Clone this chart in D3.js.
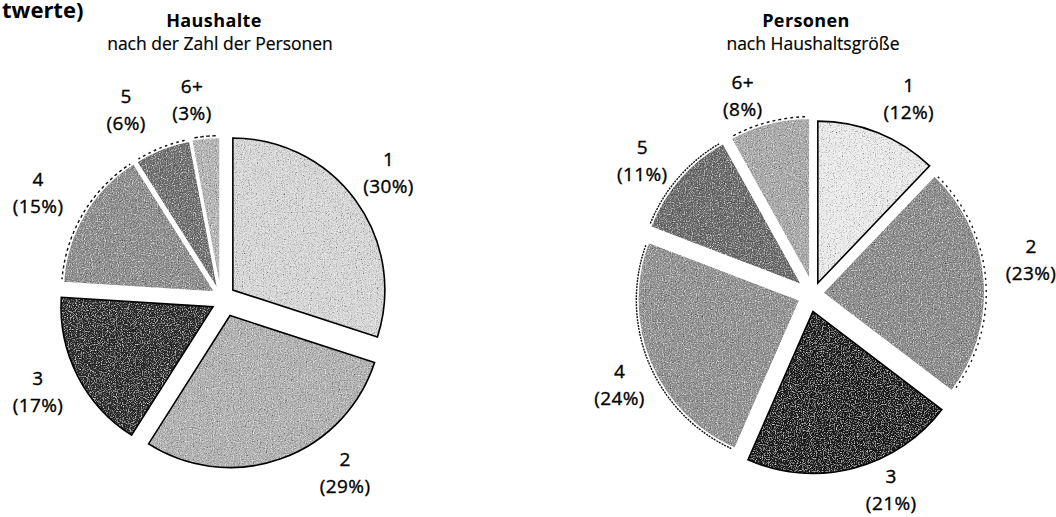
<!DOCTYPE html>
<html>
<head>
<meta charset="utf-8">
<script src="https://cdn.jsdelivr.net/npm/d3@7"></script>
<style>
  html, body { margin: 0; padding: 0; background: #fff; }
  svg { display: block; font-family: "Open Sans", "Noto Sans", sans-serif; }
  .title { font-weight: bold; font-size: 18px; letter-spacing: 0.4px; }
  .subtitle { font-size: 17.5px; stroke: #000; stroke-width: 0.2px; }
  .lbl { font-size: 19px; letter-spacing: 0.4px; stroke: #000; stroke-width: 0.35px; }
</style>
</head>
<body>
<div id="chart"></div>
<script>
// data
var hhCats = ["1", "2", "3", "4", "5", "6+"];
var hhShares = [30, 29, 17, 15, 6, 3];       // Haushalte nach Zahl der Personen (%)
var persCats = ["1", "2", "3", "4", "5", "6+"];
var persShares = [12, 23, 21, 24, 11, 8];    // Personen nach Haushaltsgröße (%)

var w = 1056, h = 517;

var svg = d3.select('#chart')
  .append('svg')
    .attr('width', w)
    .attr('height', h);

// grain filter so the fills look like the scanned raster
var defs = svg.append('defs');
var grain = defs.append('filter')
  .attr('id', 'grain')
  .attr('x', 0).attr('y', 0).attr('width', '100%').attr('height', '100%');
grain.append('feTurbulence')
  .attr('type', 'fractalNoise')
  .attr('baseFrequency', 0.85)
  .attr('numOctaves', 2)
  .attr('seed', 7)
  .attr('result', 'noise');
grain.append('feColorMatrix')
  .attr('in', 'noise')
  .attr('type', 'saturate')
  .attr('values', 0)
  .attr('result', 'grey');
var ct = grain.append('feComponentTransfer')
  .attr('in', 'grey')
  .attr('result', 'contrast');
['feFuncR', 'feFuncG', 'feFuncB'].forEach(function(f) {
  ct.append(f).attr('type', 'linear').attr('slope', 2.2).attr('intercept', -0.6);
});
grain.append('feBlend')
  .attr('in', 'SourceGraphic')
  .attr('in2', 'contrast')
  .attr('mode', 'overlay')
  .attr('result', 'mix');
grain.append('feComposite')
  .attr('in', 'mix')
  .attr('in2', 'SourceGraphic')
  .attr('operator', 'in');

// tail of the page heading (cut off in the scan)
svg.append('text')
  .attr('x', 2)
  .attr('y', 18)
  .attr('font-weight', 'bold')
  .attr('font-size', 22)
  .text('twerte)');

var rad = Math.PI / 180;
function polar(cx, cy, deg, r) {
  return [cx + r * Math.sin(deg * rad), cy - r * Math.cos(deg * rad)];
}

// settings per pie (explode distance / direction, label nudges, shades)
var pies = [
  {
    cats: hhCats, values: hhShares,
    cx: 219, cy: 292, r: 152,
    title: 'Haushalte', subtitle: 'nach der Zahl der Personen',
    titleX: 214, subX: 220,
    explode: [14, 26, 16, 4, 2, 3],
    explodeDir: [82, 155, 202, 270, 333, 20],
    labelShift: [1, -15, -2, -2, -5.5, -2.6],
    labelDist: [207, 221, 207, 206, 204, 194],
    fills: ['#d8d8d8', '#b2b2b2', '#2c2c2c', '#8e8e8e', '#6f6f6f', '#b6b6b6'],
    outline: [true, true, true, false, false, false]
  },
  {
    cats: persCats, values: persShares,
    cx: 808, cy: 290, r: 162,
    title: 'Personen', subtitle: 'nach Haushaltsgröße',
    titleX: 806, subX: 813,
    explode: [12, 15, 22, 13, 8, 10],
    explodeDir: [55, 101, 167, 219, 310, 11],
    labelShift: [6, -3, -8, -4, -3, -4],
    labelDist: [216, 225, 217, 211, 210, 205],
    fills: ['#ececec', '#8c8c8c', '#1c1c1c', '#929292', '#6a6a6a', '#aaaaaa'],
    outline: [true, false, true, false, false, false]
  }
];

var pie = d3.pie().sort(null).value(function(d) { return d; });

pies.forEach(function(p) {
  var arc = d3.arc().innerRadius(0).outerRadius(p.r);

  // headings
  svg.append('text')
    .attr('class', 'title')
    .attr('x', p.titleX)
    .attr('y', 27)
    .attr('text-anchor', 'middle')
    .text(p.title);

  svg.append('text')
    .attr('class', 'subtitle')
    .attr('x', p.subX)
    .attr('y', 50)
    .attr('text-anchor', 'middle')
    .text(p.subtitle);

  var arcs = pie(p.values);

  var slices = svg.append('g')
    .selectAll('.slice')
    .data(arcs)
    .enter()
    .append('g')
      .attr('class', 'slice')
      .attr('transform', function(d, i) {
        var o = polar(p.cx, p.cy, p.explodeDir[i], p.explode[i]);
        return 'translate(' + o[0] + ',' + o[1] + ')';
      });

  slices.append('path')
    .attr('d', arc)
    .attr('fill', function(d, i) { return p.fills[i]; })
    .attr('filter', 'url(#grain)');

  slices.append('path')
    .attr('d', arc)
    .attr('fill', 'none')
    .attr('stroke', function(d, i) { return p.outline[i] ? '#000' : '#fff'; })
    .attr('stroke-width', function(d, i) { return p.outline[i] ? 1.6 : 1.5; })
    .attr('stroke-linejoin', 'miter');

  // dotted shadow on the rim of the plain slices (scan look)
  slices.filter(function(d, i) { return !p.outline[i]; })
    .append('path')
    .attr('d', function(d) {
      return d3.arc().innerRadius(p.r + 1.5).outerRadius(p.r + 1.5)
        .startAngle(d.startAngle + 0.02).endAngle(d.endAngle - 0.02)();
    })
    .attr('fill', 'none')
    .attr('stroke', '#111')
    .attr('stroke-width', 1.4)
    .attr('stroke-dasharray', '2,4');

  // labels
  var labels = svg.append('g')
    .selectAll('.lbl')
    .data(arcs)
    .enter()
    .append('text')
      .attr('class', 'lbl')
      .attr('text-anchor', 'middle')
      .attr('transform', function(d, i) {
        var mid = (d.startAngle + d.endAngle) / 2 / rad;
        var pt = polar(p.cx, p.cy, mid + p.labelShift[i], p.labelDist[i]);
        return 'translate(' + pt[0] + ',' + pt[1] + ')';
      });

  labels.append('tspan')
    .attr('x', 0)
    .attr('y', -7)
    .text(function(d, i) { return p.cats[i]; });

  labels.append('tspan')
    .attr('x', 0)
    .attr('y', 20)
    .text(function(d) { return '(' + d.data + '%)'; });
});
</script>
</body>
</html>
